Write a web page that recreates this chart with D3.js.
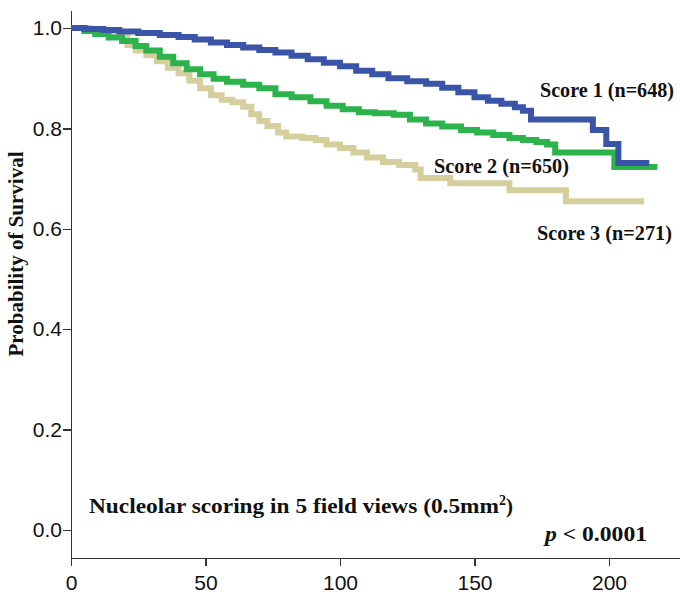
<!DOCTYPE html>
<html>
<head>
<title>Survival by nucleolar score - D3.js</title>
<script src="https://d3js.org/d3.v7.min.js"></script>
<style>
body { margin: 0; background: #fff; }
.axis path, .axis line { stroke: #333; stroke-width: 1.5px; shape-rendering: crispEdges; }
.axis text { font-family: "Liberation Sans", Arial, sans-serif; font-size: 21px; fill: #111; }
.curve { fill: none; stroke-width: 6px; }
.lbl { font-family: "Liberation Serif", "Times New Roman", serif; font-weight: bold; font-size: 21px; fill: #111; }
</style>
</head>
<body>
<svg width="680" height="594"></svg>
<script>
// Kaplan-Meier steps (time, survival)
const score1Time = [0, 5, 12, 18, 25, 33, 40, 46, 52, 58, 64, 70, 76, 82, 88, 94, 100, 106, 112, 118, 125, 132, 138, 144, 150, 155, 160, 165, 168, 171, 194, 199, 203.5, 215];
const score1Surv = [1.0, 0.998, 0.996, 0.993, 0.990, 0.986, 0.982, 0.977, 0.971, 0.966, 0.961, 0.956, 0.951, 0.945, 0.938, 0.931, 0.924, 0.915, 0.908, 0.900, 0.894, 0.889, 0.881, 0.872, 0.862, 0.855, 0.849, 0.842, 0.835, 0.818, 0.797, 0.769, 0.731, 0.731];

const score2Time = [0, 5, 9, 14, 19, 24, 28, 33, 38, 43, 48, 53, 58, 64, 70, 76, 82, 89, 95, 101, 107, 113, 120, 126, 132, 138, 145, 151, 157, 163, 168, 173, 177, 180, 202, 218];
const score2Surv = [1.0, 0.994, 0.988, 0.981, 0.974, 0.964, 0.955, 0.943, 0.930, 0.918, 0.908, 0.899, 0.893, 0.887, 0.880, 0.868, 0.862, 0.854, 0.845, 0.838, 0.832, 0.830, 0.827, 0.818, 0.810, 0.804, 0.797, 0.792, 0.787, 0.781, 0.777, 0.773, 0.768, 0.752, 0.723, 0.723];

const score3Time = [0, 7, 10, 18, 21, 24, 28, 32, 36, 40, 44, 48, 52, 56, 60, 64, 67, 70, 73, 77, 80, 86, 91, 95, 100, 105, 110, 116, 122, 128, 130, 141, 163, 184, 213];
const score3Surv = [1.0, 0.996, 0.992, 0.988, 0.966, 0.955, 0.946, 0.934, 0.921, 0.910, 0.895, 0.880, 0.866, 0.857, 0.852, 0.843, 0.828, 0.815, 0.805, 0.792, 0.784, 0.781, 0.777, 0.768, 0.761, 0.752, 0.742, 0.733, 0.727, 0.718, 0.701, 0.691, 0.677, 0.655, 0.655];

const seriesNames = ["Score 1 (n=648)", "Score 2 (n=650)", "Score 3 (n=271)"];
const seriesColors = ["#3a55a8", "#2db34b", "#d5cf9e"];
const xTicks = [0, 50, 100, 150, 200];
const yTicks = [0.0, 0.2, 0.4, 0.6, 0.8, 1.0];

const svg = d3.select("svg");

const x = d3.scaleLinear().domain([0, 226.4]).range([71, 680]);
const y = d3.scaleLinear().domain([-0.0558, 1.0359]).range([558, 10]);

svg.append("g")
  .attr("class", "axis")
  .attr("transform", "translate(71,0)")
  .call(d3.axisLeft(y).tickValues(yTicks).tickFormat(d3.format(".1f")).tickSize(8).tickSizeOuter(0).tickPadding(1));

svg.append("g")
  .attr("class", "axis")
  .attr("transform", "translate(0,558)")
  .call(d3.axisBottom(x).tickValues(xTicks).tickFormat(d3.format("d")).tickSize(8).tickSizeOuter(0).tickPadding(9));

const line = d3.line()
  .curve(d3.curveStepAfter)
  .x(d => x(d[0]))
  .y(d => y(d[1]));

const series = [
  d3.zip(score3Time, score3Surv),
  d3.zip(score2Time, score2Surv),
  d3.zip(score1Time, score1Surv)
];
const order = [2, 1, 0];

// draw tan first, then green, blue on top
series.forEach((s, i) => {
  svg.append("path")
    .datum(s)
    .attr("class", "curve")
    .attr("stroke", seriesColors[order[i]])
    .attr("d", line);
});

// labels, stretched a bit like the original
svg.append("text").attr("class", "lbl").attr("x", 540).attr("y", 97)
  .attr("textLength", 134).attr("lengthAdjust", "spacingAndGlyphs").text(seriesNames[0]);
svg.append("text").attr("class", "lbl").attr("x", 434).attr("y", 173)
  .attr("textLength", 135).attr("lengthAdjust", "spacingAndGlyphs").text(seriesNames[1]);
svg.append("text").attr("class", "lbl").attr("x", 537).attr("y", 240)
  .attr("textLength", 135).attr("lengthAdjust", "spacingAndGlyphs").text(seriesNames[2]);

const note = svg.append("text").attr("class", "lbl").attr("x", 89).attr("y", 513);
note.append("tspan").attr("textLength", 410).attr("lengthAdjust", "spacingAndGlyphs")
  .text("Nucleolar scoring in 5 field views (0.5mm");
note.append("tspan").attr("font-size", "14px").attr("dy", -8).text("2");
note.append("tspan").attr("dy", 8).text(")");

const pv = svg.append("text").attr("class", "lbl").attr("x", 545).attr("y", 541)
  .attr("textLength", 102).attr("lengthAdjust", "spacingAndGlyphs");
pv.append("tspan").attr("font-style", "italic").text("p");
pv.append("tspan").text(" < 0.0001");

svg.append("text")
  .attr("class", "lbl")
  .attr("transform", "translate(23,254) rotate(-90)")
  .attr("text-anchor", "middle")
  .attr("font-size", "19px")
  .text("Probability of Survival");
</script>
</body>
</html>
